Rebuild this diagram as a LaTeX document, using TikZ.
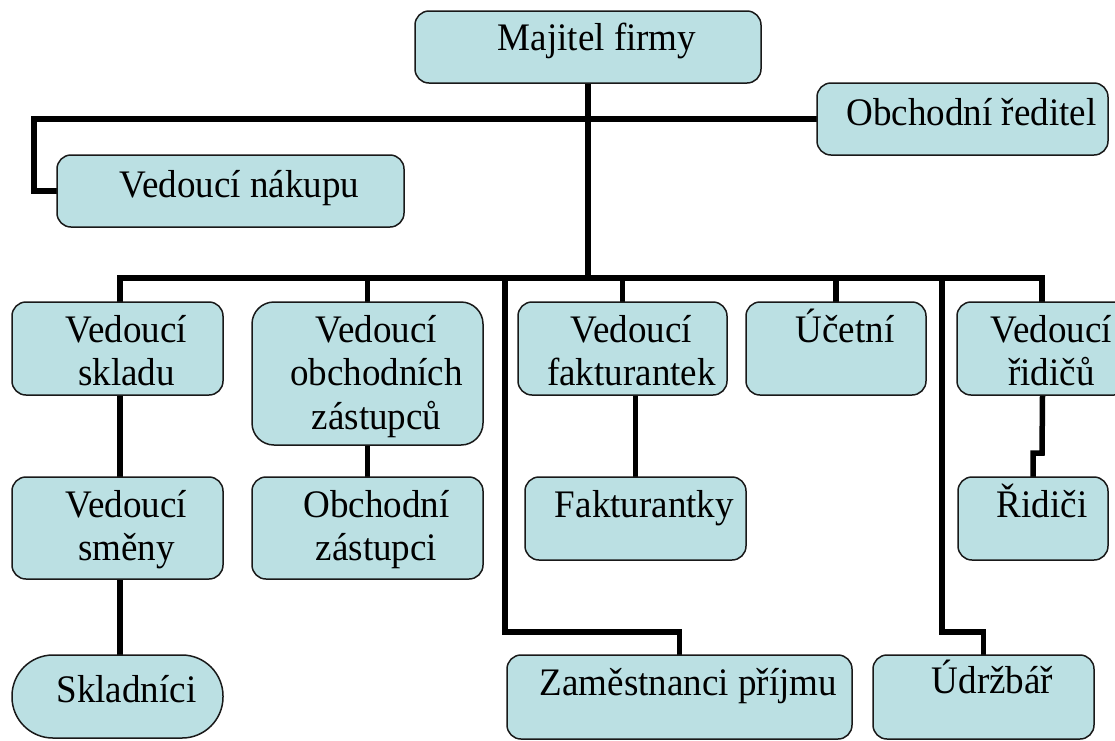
\documentclass[tikz,border=0pt]{standalone}
\usepackage{fontspec}
\setmainfont{Liberation Serif}[FakeStretch=0.95]
\usetikzlibrary{backgrounds,calc}
\definecolor{boxfill}{RGB}{187,224,227}
\definecolor{boxline}{RGB}{25,25,25}
\newcommand\obox[8]{%
  \pgfmathsetmacro\bw{#4-#2}\pgfmathsetmacro\bh{#5-#3}%
  \node[box,rounded corners=#6pt,minimum width=\bw pt,minimum height=\bh pt,anchor=north west] (#1) at (#2,#3) {};
  \node[txt,anchor=base] (#1-t) at ([xshift=9pt,yshift=-#7pt]#1.north) {\begin{tabular}[t]{@{}c@{}}#8\end{tabular}};
}
\begin{document}
\begin{tikzpicture}[x=1pt,y=-1pt,
  box/.style={draw=boxline,line width=1.5pt,fill=boxfill,inner sep=0pt,outer sep=0pt},
  txt/.style={inner sep=0pt,font=\fontsize{39}{43.5}\selectfont},
  conn/.style={line width=5.5pt,black,line join=miter}]
\useasboundingbox (0,0) rectangle (1115,740);
\clip (0,0) rectangle (1115,740);

\obox{maj}{415}{11}{761}{83}{14}{39}{Majitel firmy}
\obox{obr}{817}{83}{1108}{155}{14}{42}{Obchodní ředitel}
\obox{vnk}{57}{155}{404}{227}{14}{42}{Vedoucí nákupu}
\obox{skl}{12}{302}{223}{395}{14}{40}{Vedoucí\\skladu}
\obox{voz}{252}{302}{483}{445}{22}{40}{Vedoucí\\obchodních\\zástupců}
\obox{vfa}{518}{302}{727}{395}{14}{40}{Vedoucí\\fakturantek}
\obox{uce}{746}{302}{926}{395}{14}{40}{Účetní}
\obox{vri}{957}{302}{1128}{395}{14}{40}{Vedoucí\\řidičů}
\obox{vsm}{12}{477}{223}{579}{14}{40}{Vedoucí\\směny}
\obox{ozs}{252}{477}{483}{579}{14}{40}{Obchodní\\zástupci}
\obox{fky}{525}{477}{746}{560}{14}{40}{Fakturantky}
\obox{rid}{958}{477}{1108}{560}{14}{40}{Řidiči}
\obox{skn}{12}{655}{223}{738}{41}{47}{Skladníci}
\obox{zam}{507}{655}{852}{739}{14}{40}{Zaměstnanci příjmu}
\obox{udr}{873}{655}{1094}{739}{14}{38}{Údržbář}

\begin{pgfonlayer}{background}
\fill[white] (0,0) rectangle (1115,740);
\coordinate (busL) at (120,278);
\coordinate (busR) at (1042,278);
\coordinate (lk) at (34,119);
\coordinate (jr) at (1042,453);
\coordinate (aT) at (505,278);
\coordinate (aK) at (505,632);
\coordinate (bT) at (942,278);
\coordinate (bK) at (942,632);
\draw[conn] (maj.south) -- (maj.south |- busL);
\draw[conn] (vnk.west) -| (lk) -- (obr.west);
\draw[conn] (busL |- skl.north) -- (busL) -- (busR) -- (busR |- vri.north);
\draw[conn] (busL |- skl.south) -- (busL |- vsm.north);
\draw[conn] (busL |- vsm.south) -- (busL |- skn.north);
\draw[conn] (voz.north |- busL) -- (voz.north);
\draw[conn] (voz.south) -- (ozs.north);
\draw[conn] (vfa.north |- busL) -- (vfa.north);
\draw[conn] (fky.north |- vfa.south) -- (fky.north);
\draw[conn] (uce.north |- busL) -- (uce.north);
\draw[conn] (vri.south) -- (jr) -| (rid.north);
\draw[conn] (aT) -- (aK) -| (zam.north);
\draw[conn] (bT) -- (bK) -| (udr.north);
\end{pgfonlayer}
\end{tikzpicture}
\end{document}
